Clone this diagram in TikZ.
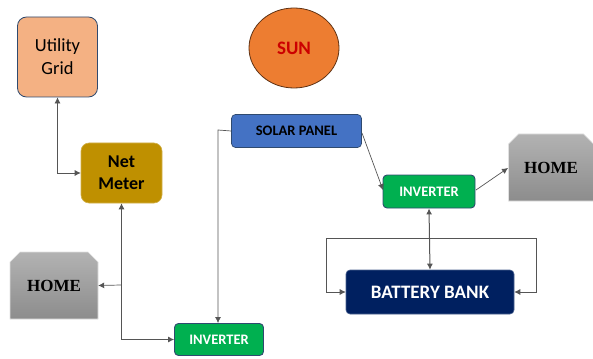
\documentclass[tikz,border=0pt]{standalone}
\usepackage{fontspec}
\setmainfont{Carlito}
\newfontfamily\homefont{Liberation Serif}
\usetikzlibrary{arrows.meta,shapes.geometric,calc}
\definecolor{gridfill}{HTML}{F4B183}
\definecolor{meterfill}{HTML}{BF9000}
\definecolor{sunfill}{HTML}{ED7D31}
\definecolor{panelfill}{HTML}{4472C4}
\definecolor{invfill}{HTML}{00B050}
\definecolor{batfill}{HTML}{002060}
\definecolor{edge}{HTML}{2F4A6F}
\definecolor{wire}{HTML}{555555}
\tikzset{
 boxbase/.style={rectangle,rounded corners=4pt,inner sep=0pt,align=center,text centered},
 gridbox/.style={boxbase,rounded corners=9pt,draw=edge,line width=.8pt,fill=gridfill,minimum width=80pt,minimum height=80pt,font=\fontsize{18.5}{23}\selectfont,text=black},
 meterbox/.style={boxbase,rounded corners=8pt,draw=meterfill!70!white,line width=.6pt,fill=meterfill,minimum width=81pt,minimum height=60pt,font=\fontsize{18}{22}\selectfont\bfseries,text=black},
 panelbox/.style={boxbase,draw=edge,line width=.7pt,fill=panelfill,minimum width=130pt,minimum height=33pt,font=\fontsize{14.5}{16}\selectfont\bfseries,text=black},
 invbox/.style={boxbase,draw=edge,line width=.9pt,fill=invfill,minimum height=33pt,font=\fontsize{14.5}{16}\selectfont\bfseries,text=white},
 batbox/.style={boxbase,draw=batfill!70!white,line width=.6pt,fill=batfill,minimum width=168pt,minimum height=44pt,font=\fontsize{19}{21}\selectfont\bfseries,text=white},
 homebox/.style={rectangle,inner sep=0pt,minimum height=67pt,font=\homefont\fontsize{17}{19}\selectfont\bfseries,text=black},
 homeshade/.style={top color=black!30,bottom color=black!45,draw=black!12,line width=.6pt},
 sunbox/.style={ellipse,draw=black!60!sunfill,line width=.8pt,fill=sunfill,minimum width=90pt,minimum height=80pt,inner sep=0pt,font=\fontsize{19}{21}\selectfont\bfseries,text=red!80!black},
 wireline/.style={draw=wire,line width=.7pt},
 endtip/.style={-{Latex[length=6pt,width=6pt]}},
 bothtip/.style={{Latex[length=6pt,width=6pt]}-{Latex[length=6pt,width=6pt]}},
}
\begin{document}
\begin{tikzpicture}[x=1pt,y=-1pt]
\useasboundingbox (0,0) rectangle (593,358);
\foreach \cx/\cy/\hw in {551/167.5/42.5, 54/285.5/44}{
  \path[homeshade] (\cx-\hw,\cy+33.5) -- (\cx-\hw,\cy-23.5) -- (\cx-\hw+10,\cy-33.5) -- (\cx+\hw-10,\cy-33.5) -- (\cx+\hw,\cy-23.5) -- (\cx+\hw,\cy+33.5) -- cycle;
}
\node[gridbox] (grid) at (57.5,57) {Utility\\Grid};
\node[meterbox] (meter) at (121.5,173) {Net\\Meter};
\node[sunbox] (sun) at (294,48) {SUN};
\node[panelbox] (panel) at (296.5,131) {SOLAR PANEL};
\node[invbox,minimum width=92pt] (invr) at (429,191.5) {INVERTER};
\node[invbox,minimum width=89pt,minimum height=32pt] (invb) at (219,339.5) {INVERTER};
\node[batbox] (bat) at (430,292) {BATTERY BANK};
\node[homebox,minimum width=85pt] (homer) at (551,167.5) {HOME};
\node[homebox,minimum width=88pt] (homel) at (54,285.5) {HOME};
\coordinate (topl) at (326,238);
\coordinate (topr) at (536,238);
\coordinate (busb) at (121,285);
\coordinate (panelout) at (362,133);
\coordinate (invin) at (383,190);
\coordinate (panelturn) at (218,130);
\coordinate (inverterout) at (476,190);
\coordinate (homein) at (508,168);

\draw[wireline,bothtip] (grid.south) |- (meter.west);
\draw[wireline,bothtip] (meter.south) |- (invb.west);
\draw[wireline,endtip] (busb) -- (homel.east);
\draw[wireline,endtip] (panel.west) -- (panelturn) -- (invb.north -| panelturn);
\draw[wireline,endtip] (panelout) -- (invin);
\draw[wireline,endtip] (inverterout) -- (homein);
\draw[wireline,line width=1pt,bothtip] (invr.south) -- (bat.north);
\draw[wireline,endtip] (topl) -- (bat.west -| topl) -- (bat.west);
\draw[wireline,endtip] (topr) -- (bat.east -| topr) -- (bat.east);
\draw[wireline] (topl) -- (topr);
\end{tikzpicture}
\end{document}
